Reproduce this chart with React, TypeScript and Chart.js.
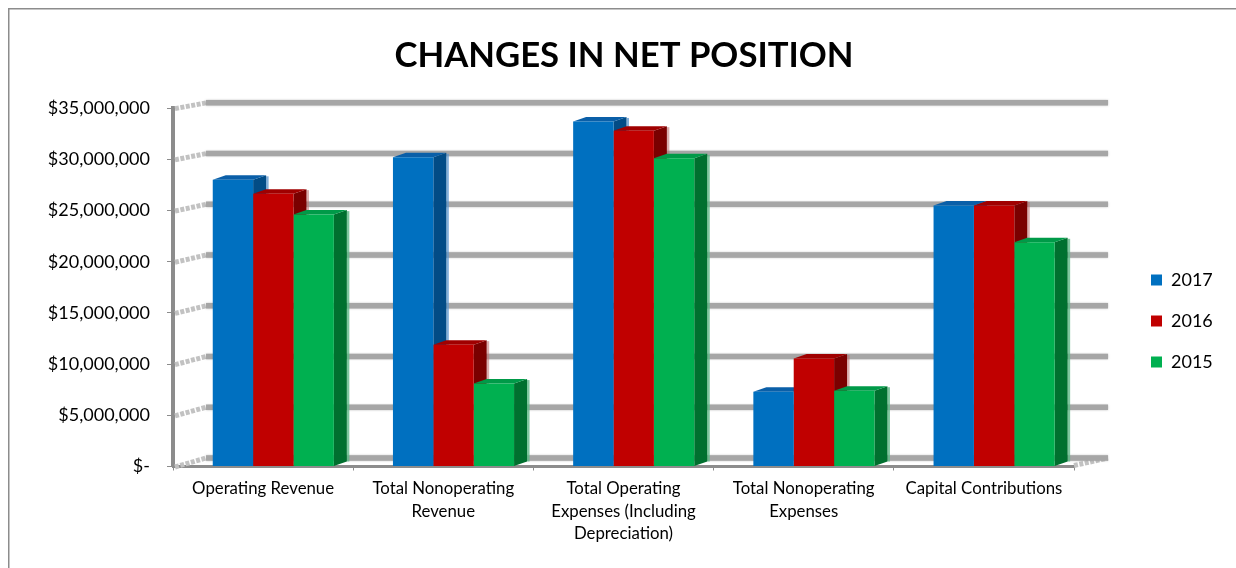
import React, { useEffect, useRef } from "react";
import { Chart, registerables } from "chart.js";

Chart.register(...registerables);

const categories = [
  "Operating Revenue",
  ["Total Nonoperating", "Revenue"],
  ["Total Operating", "Expenses (Including", "Depreciation)"],
  ["Total Nonoperating", "Expenses"],
  "Capital Contributions",
];
const values2017 = [28000000, 30200000, 33700000, 7300000, 25500000];
const values2016 = [26650000, 11900000, 32800000, 10550000, 25500000];
const values2015 = [24600000, 8100000, 30100000, 7400000, 21900000];
const seriesNames = ["2017", "2016", "2015"];
const frontColors = ["#0070C0", "#C00000", "#00B050"];
const sideColors = ["#024C86", "#7A0000", "#00702F"];
const topColors = ["#0A5FA8", "#A00000", "#009A48"];
const edgeColors = ["rgba(90,150,205,0.75)", "rgba(190,110,110,0.55)", "rgba(95,185,135,0.8)"];

const FONT = "Lato, Carlito, Calibri, sans-serif";

const walls3d = {
  id: "walls3d",
  beforeInit(chart: any) {
    const legend = chart.legend;
    const fit = legend.fit;
    legend.fit = function () {
      fit.call(this);
      this.width = 162;
    };
  },
  beforeDraw(chart: any) {
    const { ctx, legend } = chart;
    ctx.save();
    ctx.strokeStyle = "#8C8C8C";
    ctx.lineWidth = 1.5;
    ctx.beginPath();
    ctx.moveTo(8.75, 568);
    ctx.lineTo(8.75, 8.75);
    ctx.lineTo(1236, 8.75);
    ctx.stroke();
    ctx.restore();
    legend.left = 1128;
    legend.right = 1236;
    legend.top = 221;
    legend.bottom = 421;
  },
  beforeDatasetsDraw(chart: any) {
    const { ctx, chartArea, scales } = chart;
    const { left, right, top, bottom } = chartArea;
    const backLeft = left + 33;
    const backRight = right + 34;
    const backY = (f: number) => f - 5.3 - (3.2 * (f - top)) / (bottom - top);
    ctx.save();
    scales.y.ticks.forEach((t: any) => {
      const f = scales.y.getPixelForValue(t.value);
      const b = backY(f);
      ctx.save();
      ctx.strokeStyle = "#C2C2C2";
      ctx.lineWidth = 5;
      ctx.setLineDash([4, 1.5]);
      ctx.beginPath();
      ctx.moveTo(left + 2, f + 0.5);
      ctx.lineTo(backLeft, b);
      ctx.stroke();
      if (t.value === 0) {
        ctx.beginPath();
        ctx.moveTo(right, f - 1);
        ctx.lineTo(backRight, b);
        ctx.stroke();
      }
      ctx.restore();
      ctx.save();
      ctx.strokeStyle = "#A6A6A6";
      ctx.shadowColor = "rgba(120,120,120,0.5)";
      ctx.shadowBlur = 2;
      ctx.lineWidth = 5.5;
      ctx.beginPath();
      ctx.moveTo(backLeft, b);
      ctx.lineTo(backRight, b);
      ctx.stroke();
      ctx.restore();
    });
    ctx.restore();

    ctx.save();
    ctx.translate(10.2, 0);
    const dx = 13;
    const dy = -4.5;
    chart.data.datasets.forEach((_: any, i: number) => {
      chart.getDatasetMeta(i).data.forEach((bar: any) => {
        const l = bar.x - bar.width / 2;
        const r = bar.x + bar.width / 2;
        const y = bar.y;
        const base = bar.base;
        ctx.fillStyle = edgeColors[i];
        ctx.fillRect(r + dx, y + dy + 1, 2.5, base - y - 1);
        ctx.fillStyle = sideColors[i];
        ctx.beginPath();
        ctx.moveTo(r, y);
        ctx.lineTo(r + dx, y + dy);
        ctx.lineTo(r + dx, base + dy);
        ctx.lineTo(r, base);
        ctx.closePath();
        ctx.fill();
        ctx.fillStyle = topColors[i];
        ctx.beginPath();
        ctx.moveTo(l, y);
        ctx.lineTo(l + dx, y + dy);
        ctx.lineTo(r + dx, y + dy);
        ctx.lineTo(r, y);
        ctx.closePath();
        ctx.fill();
      });
    });
  },
  afterDatasetsDraw(chart: any) {
    chart.ctx.restore();
  },
};

export default function App() {
  const ref = useRef<HTMLCanvasElement>(null);
  useEffect(() => {
    const chart = new Chart(ref.current as HTMLCanvasElement, {
      type: "bar",
      data: {
        labels: categories as any,
        datasets: [values2017, values2016, values2015].map((data, i) => ({
          label: seriesNames[i],
          data,
          backgroundColor: frontColors[i],
          borderWidth: 0,
          categoryPercentage: 0.672,
          barPercentage: 1,
          clip: false as any,
        })),
      },
      options: {
        responsive: false,
        animation: false,
        devicePixelRatio: 1,
        layout: { padding: { left: 12, right: 0, top: 0, bottom: 0 } },
        plugins: {
          tooltip: { enabled: false },
          title: {
            display: true,
            text: "CHANGES IN NET POSITION",
            color: "#000000",
            font: { family: FONT, size: 34.7, weight: "bold" },
            padding: { top: 34.5, bottom: 32 },
          },
          legend: {
            position: "right",
            labels: {
              boxWidth: 11,
              boxHeight: 11,
              padding: 23,
              color: "#000000",
              font: { family: FONT, size: 18 },
            },
          },
        },
        scales: {
          x: {
            afterFit: (s: any) => {
              s.height = 101.5;
            },
            border: { display: true, color: "#8C8C8C", width: 3 },
            grid: {
              drawOnChartArea: false,
              drawTicks: true,
              tickLength: 4,
              tickColor: "#8C8C8C",
              tickWidth: 1,
            },
            ticks: {
              autoSkip: false,
              maxRotation: 0,
              minRotation: 0,
              padding: 7,
              color: "#000000",
              font: { family: FONT, size: 16.8, lineHeight: 1.34 },
            },
          },
          y: {
            min: 0,
            max: 35000000,
            afterFit: (s: any) => {
              s.width = 161;
            },
            border: { display: true, color: "#8C8C8C", width: 4 },
            grid: {
              drawOnChartArea: false,
              drawTicks: true,
              tickLength: 6,
              tickColor: "#8C8C8C",
              tickWidth: 1,
            },
            ticks: {
              stepSize: 5000000,
              padding: 17,
              color: "#000000",
              font: { family: FONT, size: 18 },
              callback: (v: any) => (v === 0 ? "$-" : "$" + Number(v).toLocaleString("en-US")),
            },
          },
        },
      },
      plugins: [walls3d as any],
    });
    return () => chart.destroy();
  }, []);
  return (
    <canvas
      ref={ref}
      width={1236}
      height={568}
      style={{ position: "fixed", left: 0, top: 0, width: 1236, height: 568, display: "block" }}
    />
  );
}
